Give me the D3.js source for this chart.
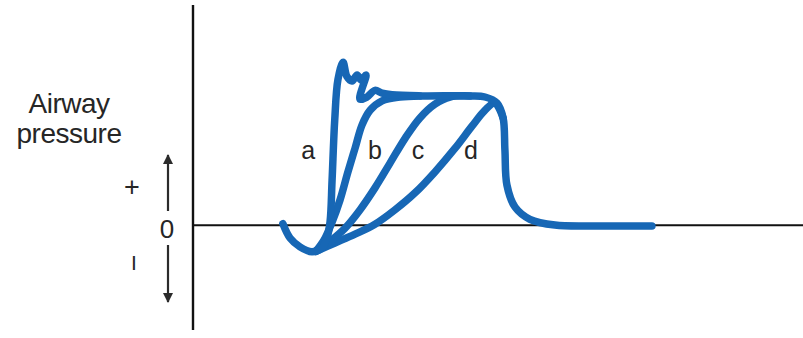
<!DOCTYPE html>
<html>
<head>
<meta charset="utf-8">
<script src="https://cdn.jsdelivr.net/npm/d3@7"></script>
<style>
  body { margin: 0; background: #fff; }
  svg { display: block; }
  text { font-family: "Liberation Sans", Arial, sans-serif; fill: #262626; }
</style>
</head>
<body>
<svg id="chart"></svg>
<script>
// time (s) / airway pressure (cmH2O)
const curveA = [
  [0.442, 0.3], [0.477, -2.3], [0.526, -3.9], [0.585, -4.8], [0.634, -4.1],
  [0.659, -2.3], [0.674, 0.6], [0.684, 8.2], [0.697, 19.1], [0.713, 26.5],
  [0.738, 29.6], [0.757, 27.0], [0.782, 26.2], [0.807, 27.3], [0.826, 26.4],
  [0.851, 27.3], [0.821, 22.9], [0.856, 23.3], [0.895, 24.5], [0.930, 24.0],
  [0.979, 23.7], [1.116, 23.5], [1.362, 23.5], [1.436, 23.3], [1.495, 22.2],
  [1.525, 19.5], [1.534, 13.7], [1.544, 7.3], [1.584, 3.3], [1.657, 1.1],
  [1.780, 0.05], [2.002, -0.1], [2.257, -0.1],
];
const curveB = [
  [0.605, -4.7], [0.644, -2.7], [0.684, 0.6], [0.723, 4.6], [0.762, 9.7],
  [0.797, 14.0], [0.831, 18.2], [0.871, 20.9], [0.930, 22.6], [1.018, 23.3],
  [1.116, 23.5],
];
const curveC = [
  [0.605, -4.7], [0.674, -2.9], [0.748, -0.5], [0.821, 2.8], [0.895, 6.8],
  [0.969, 11.3], [1.043, 15.8], [1.116, 19.5], [1.190, 22.0], [1.264, 23.3],
  [1.362, 23.5],
];
const curveD = [
  [0.605, -4.7], [0.698, -3.2], [0.797, -1.6], [0.895, 0.2], [0.993, 2.8],
  [1.092, 5.9], [1.190, 9.7], [1.289, 14.0], [1.372, 18.0], [1.436, 20.9],
  [1.485, 22.2], [1.525, 19.5],
];
const curveNames = ['a', 'b', 'c', 'd'];
const labelT = [0.566, 0.895, 1.107, 1.367];
const labelP = 12;

const width = 803,
  height = 338;

const svg = d3.select('#chart').attr('width', width).attr('height', height);

// scales
const x = d3.scaleLinear().domain([0, 3]).range([193, 803]);
const y = d3.scaleLinear().domain([-19, 40]).range([330, 5]);

// arrow marker
svg
  .append('defs')
  .append('marker')
  .attr('id', 'head')
  .attr('viewBox', '0 0 10 10')
  .attr('refX', 9)
  .attr('refY', 5)
  .attr('markerWidth', 10)
  .attr('markerHeight', 10)
  .attr('markerUnits', 'userSpaceOnUse')
  .attr('orient', 'auto')
  .append('path')
  .attr('d', 'M0,0 L10,5 L0,10 Z')
  .attr('fill', '#2b2b2b');

// axes
svg
  .append('line')
  .attr('x1', x(0))
  .attr('x2', x(0))
  .attr('y1', y(40))
  .attr('y2', y(-19))
  .attr('stroke', '#111')
  .attr('stroke-width', 2.4);

svg
  .append('line')
  .attr('x1', x(0))
  .attr('x2', x(3))
  .attr('y1', y(0))
  .attr('y2', y(0))
  .attr('stroke', '#111')
  .attr('stroke-width', 2);

// curves
const line = d3
  .line()
  .x((d) => x(d[0]))
  .y((d) => y(d[1]))
  .curve(d3.curveCatmullRom.alpha(0.5));

svg
  .append('g')
  .selectAll('path')
  .data([curveD, curveC, curveB, curveA])
  .join('path')
  .attr('d', line)
  .attr('fill', 'none')
  .attr('stroke', '#1767b5')
  .attr('stroke-width', 7.5)
  .attr('stroke-linecap', 'round')
  .attr('stroke-linejoin', 'round');

// curve labels
svg
  .append('g')
  .selectAll('text')
  .data(curveNames)
  .join('text')
  .attr('x', (d, i) => x(labelT[i]))
  .attr('y', y(labelP))
  .attr('text-anchor', 'middle')
  .attr('font-size', 25)
  .text((d) => d);

// y title
const title = svg
  .append('text')
  .attr('x', 69)
  .attr('y', 113)
  .attr('text-anchor', 'middle')
  .attr('font-size', 28)
  .attr('letter-spacing', -0.5);
title.append('tspan').attr('x', 69).text('Airway');
title.append('tspan').attr('x', 69).attr('dy', 30).text('pressure');

// sign arrows
svg
  .append('line')
  .attr('x1', 168)
  .attr('x2', 168)
  .attr('y1', 211)
  .attr('y2', 155)
  .attr('stroke', '#2b2b2b')
  .attr('stroke-width', 2.2)
  .attr('marker-end', 'url(#head)');

svg
  .append('line')
  .attr('x1', 168)
  .attr('x2', 168)
  .attr('y1', 245)
  .attr('y2', 302)
  .attr('stroke', '#2b2b2b')
  .attr('stroke-width', 2.2)
  .attr('marker-end', 'url(#head)');

svg
  .append('text')
  .attr('x', 167)
  .attr('y', 238)
  .attr('text-anchor', 'middle')
  .attr('font-size', 26)
  .text('0');

svg
  .append('text')
  .attr('x', 132)
  .attr('y', 196)
  .attr('text-anchor', 'middle')
  .attr('font-size', 27)
  .text('+');

// minus sign, drawn upright as in the source figure
svg
  .append('text')
  .attr('x', 134)
  .attr('y', 270)
  .attr('text-anchor', 'middle')
  .attr('font-size', 21)
  .text('I');
</script>
</body>
</html>
